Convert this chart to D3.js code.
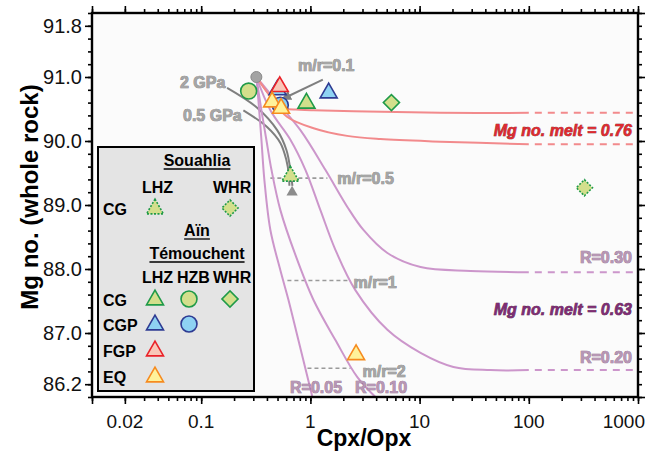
<!DOCTYPE html>
<html><head><meta charset="utf-8">
<script src="https://cdn.jsdelivr.net/npm/d3@7"></script>
<style>
html,body{margin:0;padding:0;background:#fff;}
svg text{font-family:"Liberation Sans",Arial,sans-serif;}
</style></head>
<body>
<svg id="c" width="656" height="457"></svg>
<script>
// ---------- data ----------
const xTickValues = [0.02, 0.1, 1, 10, 100, 1000];
const xTickLabels = ["0.02", "0.1", "1", "10", "100", "1000"];
const yTickValues = [91.8, 91.0, 90.0, 89.0, 88.0, 87.0, 86.2];
const yTickLabels = ["91.8", "91.0", "90.0", "89.0", "88.0", "87.0", "86.2"];

// starting residue (grey circle)
const startPoint = [0.32, 91.0];
// Mg no. melt = 0.76 curves (solid part), continued dashed to 900
const melt076Upper = [[0.32, 91.0], [0.42, 90.72], [0.53, 90.52], [0.8, 90.49], [1.07, 90.48], [3.3, 90.46], [15.5, 90.44], [100, 90.44]];
const melt076Lower = [[0.32, 91.0], [0.45, 90.65], [0.61, 90.38], [1.07, 90.2], [2.17, 90.08], [4.38, 90.03], [15.5, 89.99], [100, 89.95]];
// Mg no. melt = 0.63 curves
const meltR005 = [[0.32, 91.0], [0.334, 90.64], [0.356, 90.02], [0.379, 89.39], [0.43, 88.61], [0.531, 87.98], [0.629, 87.52], [0.776, 86.89], [1.043, 86.0]];
const meltR010 = [[0.32, 91.0], [0.356, 90.48], [0.395, 90.02], [0.44, 89.55], [0.531, 88.92], [0.729, 88.22], [1.065, 87.52], [1.694, 86.89], [2.69, 86.31], [3.94, 86.0]];
const meltR020 = [[0.32, 91.0], [0.43, 90.48], [0.656, 90.02], [0.9, 89.55], [1.235, 88.92], [1.694, 88.30], [2.58, 87.67], [5.07, 87.05], [10.2, 86.69], [20.4, 86.47], [44.5, 86.42], [100, 86.42]];
const meltR030 = [[0.32, 91.0], [0.478, 90.64], [0.81, 90.17], [1.371, 89.55], [2.18, 88.97], [3.06, 88.61], [5.07, 88.25], [10.2, 88.03], [29.2, 87.97], [100, 87.95]];
const dashEnd = 900;
// melting-pressure paths (grey)
const path2GPa = [[0.1726, 90.83], [0.325, 90.52], [0.496, 90.17], [0.603, 89.86], [0.656, 89.55], [0.684, 89.30]];
const path05GPa = [[0.2434, 90.48], [0.401, 90.22], [0.531, 89.97], [0.603, 89.70], [0.636, 89.47], [0.642, 89.30]];
const greyTriangle = [0.68, 89.2];
// m/r=0.1 arrow (from, to)
const arrowMr01 = [[1.3, 90.96], [0.56, 90.66]];
// m/r levels
const mrLevels = [
  {label: "m/r=0.5", y: 89.42, x0: 0.43, x1: 1.43},
  {label: "m/r=1", y: 87.82, x0: 0.616, x1: 2.33},
  {label: "m/r=2", y: 86.45, x0: 0.94, x1: 2.33}
];
// samples: [x, y]
const atCG_LHZ = [[0.92, 90.59]];
const atCG_HZB = [[0.272, 90.78]];
const atCG_WHR = [[5.52, 90.6]];
const atCGP_LHZ = [[0.50, 90.80], [1.47, 90.75]];
const atCGP_HZB = [[0.53, 90.56]];
const atFGP_LHZ = [[0.524, 90.85]];
const atEQ_LHZ = [[0.446, 90.61], [0.539, 90.51], [2.62, 86.66]];
const soCG_LHZ = [[0.656, 89.45]];
const soCG_WHR = [[323, 89.27]];

// ---------- chart ----------
const svg = d3.select("#c");
const x = d3.scaleLog().domain([0.01, 1000]).range([92, 638]);
const y = d3.scaleLinear().domain([86, 92]).range([397, 13]);

const styles = {
  CG: {fill: "#d3df8c", stroke: "#1f9a48"},
  CGP: {fill: "#8ed2f3", stroke: "#2e3b93"},
  FGP: {fill: "#f9c7b8", stroke: "#ea2229"},
  EQ: {fill: "#fff29a", stroke: "#f68b1f"}
};

svg.append("rect").attr("x", x.range()[0]).attr("y", y.range()[1])
  .attr("width", x.range()[1] - x.range()[0]).attr("height", y.range()[0] - y.range()[1])
  .attr("fill", "#fbfbfb");

const line = d3.line().x(d => x(d[0])).y(d => y(d[1])).curve(d3.curveCatmullRom.alpha(0.5));

// dashed m/r levels
mrLevels.forEach(m => {
  svg.append("line").attr("x1", x(m.x0)).attr("x2", x(m.x1)).attr("y1", y(m.y)).attr("y2", y(m.y))
    .attr("stroke", "#9a9a9a").attr("stroke-width", 1.6).attr("stroke-dasharray", "4,3");
});

// grey pressure paths
[path2GPa, path05GPa].forEach(p => {
  svg.append("path").attr("d", line(p)).attr("fill", "none").attr("stroke", "#7f7f7f").attr("stroke-width", 2);
});

// melt curves
const purple = "#cc96cb", red = "#f28a8c";
[[meltR005, purple, false], [meltR010, purple, false], [meltR020, purple, true], [meltR030, purple, true],
 [melt076Upper, red, true], [melt076Lower, red, true]].forEach(([p, col, ext]) => {
  svg.append("path").attr("d", line(p)).attr("fill", "none").attr("stroke", col).attr("stroke-width", 2);
  if (ext) {
    const last = p[p.length - 1];
    svg.append("line").attr("x1", x(last[0]) + 6).attr("x2", x(dashEnd)).attr("y1", y(last[1])).attr("y2", y(last[1]))
      .attr("stroke", col).attr("stroke-width", 2).attr("stroke-dasharray", "7,6");
  }
});

// m/r=0.1 arrow
svg.append("defs").append("marker").attr("id", "ah").attr("viewBox", "0 0 10 10").attr("refX", 8).attr("refY", 5)
  .attr("markerWidth", 5).attr("markerHeight", 5).attr("orient", "auto")
  .append("path").attr("d", "M0,0L10,5L0,10z").attr("fill", "#7f7f7f");
svg.append("line").attr("x1", x(arrowMr01[0][0])).attr("y1", y(arrowMr01[0][1]))
  .attr("x2", x(arrowMr01[1][0])).attr("y2", y(arrowMr01[1][1]))
  .attr("stroke", "#7f7f7f").attr("stroke-width", 2).attr("marker-end", "url(#ah)");

// symbols
const tri = d3.symbol().type(d3.symbolTriangle).size(125);
const circ = d3.symbol().type(d3.symbolCircle).size(200);
const sq = d3.symbol().type(d3.symbolSquare).size(130);
function drawMarks(g, data, gen, st, rot, dashed) {
  g.selectAll(null).data(data).enter().append("path")
    .attr("d", gen)
    .attr("transform", d => `translate(${x(d[0])},${y(d[1])})` + (rot ? " rotate(45)" : ""))
    .attr("fill", st.fill).attr("stroke", st.stroke).attr("stroke-width", 1.6)
    .attr("stroke-dasharray", dashed ? "2,1.5" : null);
}
const mg = svg.append("g");
mg.append("path").attr("d", d3.symbol().type(d3.symbolTriangle).size(55)())
  .attr("transform", `translate(${x(greyTriangle[0])},${y(greyTriangle[1])})`).attr("fill", "#8c8c8c");
mg.append("circle").attr("cx", x(startPoint[0])).attr("cy", y(startPoint[1])).attr("r", 5.5)
  .attr("fill", "#a3a3a3").attr("stroke", "#8a8a8a").attr("stroke-width", 1);
drawMarks(mg, atCG_HZB, circ, styles.CG);
drawMarks(mg, atCGP_LHZ, tri, styles.CGP);
drawMarks(mg, atCGP_HZB, circ, styles.CGP);
drawMarks(mg, atFGP_LHZ, tri, styles.FGP);
drawMarks(mg, atEQ_LHZ, tri, styles.EQ);
drawMarks(mg, atCG_LHZ, tri, styles.CG);
drawMarks(mg, atCG_WHR, sq, styles.CG, true);
drawMarks(mg, soCG_LHZ, tri, styles.CG, false, true);
drawMarks(mg, soCG_WHR, sq, styles.CG, true, true);

// text helpers
function label(tx, ty, t, o) {
  return svg.append("text").attr("x", tx).attr("y", ty).text(t)
    .attr("font-size", o.size || 16).attr("font-weight", o.weight || "bold")
    .attr("font-style", o.italic ? "italic" : null)
    .attr("text-anchor", o.anchor || "start")
    .attr("fill", o.fill || "#000").attr("stroke", o.stroke || null).attr("stroke-width", o.sw || null)
    .attr("paint-order", "stroke");
}
const greyT = {fill: "#a5a5a5", stroke: "#7c7c7c", sw: 0.7, size: 16};
label(180, 88, "2 GPa", greyT);
label(183, 121, "0.5 GPa", greyT);
label(298, 71, "m/r=0.1", greyT);
label(x(mrLevels[0].x1) + 10, y(mrLevels[0].y) + 6, mrLevels[0].label, greyT);
label(x(mrLevels[1].x1) + 3, y(mrLevels[1].y) + 7, mrLevels[1].label, greyT);
label(x(mrLevels[2].x1) + 12, y(mrLevels[2].y) + 9, mrLevels[2].label, greyT);
const mauveT = {fill: "#b796b4", stroke: "#8d6b8a", sw: 0.7, size: 16};
label(290, 393, "R=0.05", mauveT);
label(355, 393, "R=0.10", mauveT);
label(632, 263, "R=0.30", Object.assign({anchor: "end"}, mauveT));
label(632, 363, "R=0.20", Object.assign({anchor: "end"}, mauveT));
label(632, 136, "Mg no. melt = 0.76", {anchor: "end", italic: true, size: 16, fill: "#dd2a30", stroke: "#7a1015", sw: 0.6});
label(632, 315, "Mg no. melt = 0.63", {anchor: "end", italic: true, size: 16, fill: "#7e2c73", stroke: "#3c0a35", sw: 0.6});

// ---------- axes ----------
const xMinor = [];
for (let e = -2; e < 3; e++) for (let k = 1; k < 10; k++) xMinor.push(k * Math.pow(10, e));
xMinor.push(1000);
const xMajorTicks = [0.01, 0.02, 0.1, 1, 10, 100, 1000];
const yMinor = d3.range(86, 92.01, 0.2);

function styleAxis(g) {
  g.select(".domain").remove();
  g.selectAll(".tick line").attr("stroke", "#000").attr("stroke-width", 1.6);
}
const xL = x.range()[0], xR = x.range()[1], yB = y.range()[0], yT = y.range()[1];
svg.append("g").attr("transform", `translate(0,${yB})`).call(d3.axisBottom(x).tickValues(xMinor).tickSize(4).tickFormat("")).call(styleAxis);
svg.append("g").attr("transform", `translate(0,${yB})`).call(d3.axisBottom(x).tickValues(xMajorTicks).tickSize(7).tickFormat("")).call(styleAxis);
svg.append("g").attr("transform", `translate(0,${yT})`).call(d3.axisTop(x).tickValues(xMinor).tickSize(4).tickFormat("")).call(styleAxis);
svg.append("g").attr("transform", `translate(0,${yT})`).call(d3.axisTop(x).tickValues(xMajorTicks).tickSize(7).tickFormat("")).call(styleAxis);
svg.append("g").attr("transform", `translate(${xL},0)`).call(d3.axisLeft(y).tickValues(yMinor).tickSize(4).tickFormat("")).call(styleAxis);
svg.append("g").attr("transform", `translate(${xL},0)`).call(d3.axisLeft(y).tickValues(yTickValues).tickSize(7).tickFormat("")).call(styleAxis);
svg.append("g").attr("transform", `translate(${xR},0)`).call(d3.axisRight(y).tickValues(yMinor).tickSize(4).tickFormat("")).call(styleAxis);
svg.append("g").attr("transform", `translate(${xR},0)`).call(d3.axisRight(y).tickValues([86, 87, 88, 89, 90, 91, 92]).tickSize(7).tickFormat("")).call(styleAxis);

svg.append("rect").attr("x", xL).attr("y", yT).attr("width", xR - xL).attr("height", yB - yT)
  .attr("fill", "none").attr("stroke", "#000").attr("stroke-width", 2.4);

// tick labels
xTickValues.forEach((v, i) => {
  const last = i === xTickValues.length - 1;
  svg.append("text").attr("x", last ? x(v) + 7 : x(v)).attr("y", 428)
    .attr("text-anchor", last ? "end" : "middle")
    .attr("font-size", 19).attr("fill", "#111").text(xTickLabels[i]);
});
yTickValues.forEach((v, i) => {
  svg.append("text").attr("x", 82).attr("y", y(v) + 7).attr("text-anchor", "end")
    .attr("font-size", 20).attr("fill", "#111").text(yTickLabels[i]);
});
svg.append("text").attr("transform", `translate(38,197) rotate(-90)`).attr("text-anchor", "middle")
  .attr("font-size", 24).attr("font-weight", "bold").text("Mg no. (whole rock)");
svg.append("text").attr("x", 364).attr("y", 446).attr("text-anchor", "middle")
  .attr("font-size", 23).attr("font-weight", "bold").text("Cpx/Opx");

// ---------- legend ----------
const lg = svg.append("g");
lg.append("rect").attr("x", 98).attr("y", 147).attr("width", 156).attr("height", 244)
  .attr("fill", "#e4e4e4").attr("stroke", "#000").attr("stroke-width", 2);
function lt(tx, ty, t, anchor, underline) {
  const el = lg.append("text").attr("x", tx).attr("y", ty).text(t).attr("font-size", 16)
    .attr("font-weight", "bold").attr("text-anchor", anchor || "start").attr("fill", "#000");
  if (underline) {
    const w = el.node().getComputedTextLength();
    const x0 = anchor === "middle" ? tx - w / 2 : tx;
    lg.append("line").attr("x1", x0).attr("x2", x0 + w).attr("y1", ty + 3).attr("y2", ty + 3)
      .attr("stroke", "#000").attr("stroke-width", 1.3);
  }
}
lt(197, 166, "Souahlia", "middle", true);
lt(142, 193, "LHZ"); lt(213, 193, "WHR");
lt(103, 215, "CG");
lt(197, 236, "Aïn", "middle", true);
lt(197, 259, "Témouchent", "middle", true);
lt(142, 283, "LHZ"); lt(177, 283, "HZB"); lt(213, 283, "WHR");
lt(103, 306, "CG"); lt(103, 331, "CGP"); lt(103, 357, "FGP"); lt(103, 383, "EQ");
function lm(gen, cx, cy, st, rot, dashed) {
  lg.append("path").attr("d", gen).attr("transform", `translate(${cx},${cy})` + (rot ? " rotate(45)" : ""))
    .attr("fill", st.fill).attr("stroke", st.stroke).attr("stroke-width", 1.6)
    .attr("stroke-dasharray", dashed ? "2,1.5" : null);
}
lm(tri(), 155, 209, styles.CG, false, true);
lm(sq(), 230, 208, styles.CG, true, true);
lm(tri(), 155, 300, styles.CG); lm(circ(), 189, 299, styles.CG); lm(sq(), 230, 299, styles.CG, true);
lm(tri(), 155, 325, styles.CGP); lm(circ(), 189, 324, styles.CGP);
lm(tri(), 155, 351, styles.FGP);
lm(tri(), 155, 377, styles.EQ);
</script>
</body></html>
